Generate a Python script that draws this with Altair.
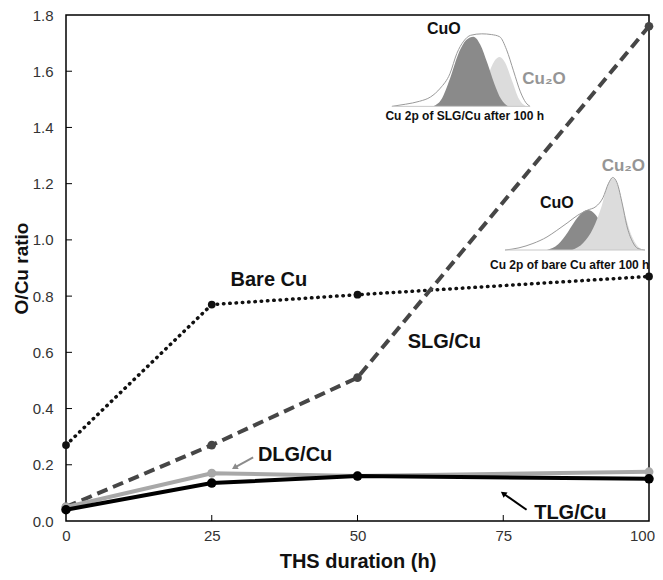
import altair as alt
import pandas as pd

# ---------------- data ----------------
hours = [0, 25, 50, 100]
bare_cu = [0.27, 0.77, 0.805, 0.87]
slg_cu = [0.05, 0.27, 0.51, 1.76]
dlg_cu = [0.05, 0.17, 0.16, 0.175]
tlg_cu = [0.04, 0.135, 0.16, 0.15]

x_tick_values = [0, 25, 50, 75, 100]
y_tick_values = [0.0, 0.2, 0.4, 0.6, 0.8, 1.0, 1.2, 1.4, 1.6, 1.8]
inner_x_ticks = [25, 50, 75]
inner_y_ticks = [0.2, 0.4, 0.6, 0.8, 1.0, 1.2, 1.4, 1.6]

# XPS inset spectra (normalised position u, normalised intensity v)
slg_env_u = [0, 0.1, 0.2, 0.28, 0.35, 0.42, 0.47, 0.52, 0.57, 0.65, 0.72, 0.78, 0.83, 0.88, 0.93, 0.97, 1.0]
slg_env_v = [0, 0.03, 0.07, 0.13, 0.25, 0.45, 0.73, 0.9, 0.98, 1.0, 0.99, 0.96, 0.78, 0.49, 0.2, 0.05, 0]
slg_cuo_u = [0.30, 0.36, 0.42, 0.48, 0.54, 0.59, 0.64, 0.69, 0.74, 0.79, 0.84]
slg_cuo_v = [0, 0.1, 0.38, 0.72, 0.92, 0.96, 0.85, 0.6, 0.32, 0.1, 0]
slg_cu2o_u = [0.58, 0.64, 0.70, 0.74, 0.78, 0.82, 0.87, 0.92, 0.97]
slg_cu2o_v = [0, 0.15, 0.45, 0.62, 0.68, 0.6, 0.35, 0.1, 0]

bare_env_u = [0, 0.1, 0.2, 0.3, 0.37, 0.45, 0.52, 0.59, 0.65, 0.7, 0.74, 0.77, 0.8, 0.84, 0.87, 0.91, 0.95, 1.0]
bare_env_v = [0, 0.03, 0.09, 0.18, 0.27, 0.38, 0.48, 0.55, 0.6, 0.72, 0.92, 1.0, 0.93, 0.62, 0.34, 0.12, 0.02, 0]
bare_cuo_u = [0.30, 0.38, 0.45, 0.52, 0.59, 0.65, 0.71, 0.77, 0.84]
bare_cuo_v = [0, 0.08, 0.25, 0.45, 0.55, 0.48, 0.28, 0.1, 0]
bare_cu2o_u = [0.48, 0.56, 0.63, 0.69, 0.73, 0.77, 0.81, 0.85, 0.9, 0.95, 0.99]
bare_cu2o_v = [0, 0.1, 0.3, 0.6, 0.88, 0.99, 0.88, 0.55, 0.22, 0.05, 0]

# text labels
label_text = ["Bare Cu", "SLG/Cu", "DLG/Cu", "TLG/Cu"]
label_x = [34.8, 64.9, 39.3, 86.5]
label_y = [0.858, 0.635, 0.236, 0.03]

# ---------------- layout / style ----------------
W, H = 583, 506
FONT = "Liberation Sans"
# inset boxes (in data units): x0, width, y0, height
INSET_SLG = (55.9, 23.7, 1.475, 0.258)
INSET_BARE = (75.3, 24.0, 0.964, 0.258)

xs = alt.Scale(domain=[0, 100], nice=False)
ys = alt.Scale(domain=[0, 1.8], nice=False)


def series_df(vals):
    return pd.DataFrame({"h": hours, "r": vals})


def inset_df(u, v, box):
    x0, w, y0, hh = box
    return pd.DataFrame({"h": [x0 + a * w for a in u],
                         "r": [y0 + b * hh for b in v],
                         "base": [y0] * len(u)})


X = alt.X("h:Q", scale=xs, axis=alt.Axis(values=x_tick_values, format="d", ticks=False, domain=False,
                                           grid=False, labelFont=FONT, labelFontSize=15, labelColor="#333333",
                                           labelPadding=7, labelFlush=False,
                                           labelOffset={"condition": {"test": "datum.value == 100", "value": -7},
                                                        "value": 0},
                                           title="THS duration (h)",
                                           titleFont=FONT, titleFontSize=20, titleFontWeight="bold",
                                           titleColor="#111111", titlePadding=8))
Y = alt.Y("r:Q", scale=ys, axis=alt.Axis(values=y_tick_values, format=".1f", ticks=False, domain=False,
                                           grid=False, labelFont=FONT, labelFontSize=15, labelColor="#333333",
                                           labelPadding=13, labelOverlap=False, labelFlush=False,
                                           title="O/Cu ratio", titleFont=FONT, titleFontSize=19,
                                           titleFontWeight="bold", titleColor="#111111", titlePadding=1))

layers = []

# inward ticks
layers.append(alt.Chart(pd.DataFrame({"h": inner_x_ticks})).mark_rule(color="black", strokeWidth=1).encode(
    x=X, y=alt.value(H), y2=alt.value(H - 6)))
layers.append(alt.Chart(pd.DataFrame({"r": inner_y_ticks})).mark_rule(color="black", strokeWidth=1).encode(
    y=Y, x=alt.value(0), x2=alt.value(6)))


def inset_layers(env_u, env_v, cuo_u, cuo_v, cu2o_u, cu2o_v, box, dark_on_top):
    out = []
    dark = alt.Chart(inset_df(cuo_u, cuo_v, box)).mark_area(color="#8a8a8a", interpolate="monotone").encode(
        x=X, y=Y, y2="base:Q")
    light = alt.Chart(inset_df(cu2o_u, cu2o_v, box)).mark_area(color="#dcdcdc", interpolate="monotone").encode(
        x=X, y=Y, y2="base:Q")
    out += [light, dark] if dark_on_top else [dark, light]
    out.append(alt.Chart(inset_df(env_u, env_v, box)).mark_line(color="#9a9a9a", strokeWidth=1,
                                                                 interpolate="monotone").encode(x=X, y=Y))
    x0, w, y0, hh = box
    out.append(alt.Chart(pd.DataFrame({"h": [x0], "h2": [x0 + w], "r": [y0]})).mark_rule(
        color="#c8c8c8", strokeWidth=1).encode(x=X, x2="h2:Q", y=Y))
    return out


layers += inset_layers(slg_env_u, slg_env_v, slg_cuo_u, slg_cuo_v, slg_cu2o_u, slg_cu2o_v, INSET_SLG, True)
layers += inset_layers(bare_env_u, bare_env_v, bare_cuo_u, bare_cuo_v, bare_cu2o_u, bare_cu2o_v, INSET_BARE, False)

# main series
layers.append(alt.Chart(series_df(bare_cu)).mark_line(color="#111111", strokeWidth=3.5, strokeDash=[0.5, 5.8],
                                                      strokeCap="round").encode(x=X, y=Y))
layers.append(alt.Chart(series_df(bare_cu)).mark_point(filled=True, opacity=1, color="#111111", size=60,
                                                       shape="circle").encode(x=X, y=Y))
layers.append(alt.Chart(series_df(slg_cu)).mark_line(color="#464646", strokeWidth=4, strokeDash=[11, 6]).encode(
    x=X, y=Y))
layers.append(alt.Chart(series_df(slg_cu)).mark_point(filled=True, opacity=1, color="#464646", size=75,
                                                      shape="circle").encode(x=X, y=Y))
layers.append(alt.Chart(series_df(dlg_cu)).mark_line(color="#a8a8a8", strokeWidth=4).encode(x=X, y=Y))
layers.append(alt.Chart(series_df(dlg_cu)).mark_point(filled=True, opacity=1, color="#a8a8a8", size=80,
                                                      shape="circle").encode(x=X, y=Y))
layers.append(alt.Chart(series_df(tlg_cu)).mark_line(color="#000000", strokeWidth=4).encode(x=X, y=Y))
layers.append(alt.Chart(series_df(tlg_cu)).mark_point(filled=True, opacity=1, color="#000000", size=90,
                                                      shape="circle").encode(x=X, y=Y))

# arrows
arrows = pd.DataFrame({"h": [32.1, 79.0], "r": [0.226, 0.04], "h2": [28.9, 75.0], "r2": [0.19, 0.098],
                       "c": ["#8c8c8c", "#000000"]})
layers.append(alt.Chart(arrows).mark_rule(strokeWidth=2).encode(
    x=X, y=Y, x2="h2:Q", y2="r2:Q", color=alt.Color("c:N", scale=None)))
heads = pd.DataFrame({"h": [28.9, 75.0], "r": [0.19, 0.098], "c": ["#8c8c8c", "#000000"], "ang": [239, 306]})
layers.append(alt.Chart(heads).mark_point(shape="triangle-up", filled=True, opacity=1, size=45).encode(
    x=X, y=Y, color=alt.Color("c:N", scale=None), angle=alt.Angle("ang:Q", scale=None)))

# series labels
layers.append(alt.Chart(pd.DataFrame({"t": label_text, "h": label_x, "r": label_y})).mark_text(
    font=FONT, fontSize=20, fontWeight="bold", color="#111111").encode(x=X, y=Y, text="t:N"))

# inset labels
inset_txt = pd.DataFrame({
    "t": ["CuO", "Cu₂O", "Cu 2p of SLG/Cu after 100 h", "CuO", "Cu₂O", "Cu 2p of bare Cu after 100 h"],
    "h": [64.8, 82.0, 68.4, 84.2, 95.6, 86.4],
    "r": [1.75, 1.574, 1.44, 1.133, 1.264, 0.912],
    "c": ["#111111", "#959595", "#111111", "#111111", "#959595", "#111111"],
    "s": [16, 17, 12, 16, 17, 12],
})
layers.append(alt.Chart(inset_txt).mark_text(font=FONT, fontWeight="bold").encode(
    x=X, y=Y, text="t:N", color=alt.Color("c:N", scale=None), size=alt.Size("s:Q", scale=None)))

chart = alt.layer(*layers).properties(
    width=W, height=H,
    autosize=alt.AutoSizeParams(type="none"),
    padding={"left": 58, "top": 7, "right": 6, "bottom": 55},
).configure_view(stroke="black", strokeWidth=1.5)

chart.save("out.html", embed_options={"renderer": "svg", "actions": False})
